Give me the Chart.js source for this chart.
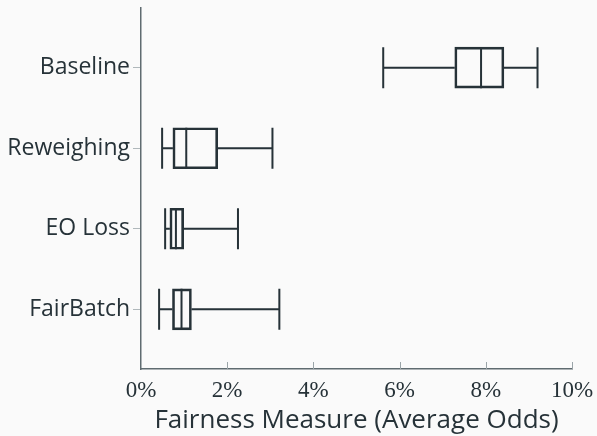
<!DOCTYPE html>
<html>
<head>
<meta charset="utf-8">
<script src="https://cdn.jsdelivr.net/npm/chart.js@4.4.1/dist/chart.umd.min.js"></script>
<style>
  html, body { margin: 0; padding: 0; background: #fafafa; }
  canvas { display: block; }
</style>
</head>
<body>
<canvas id="chart" width="597" height="436"></canvas>
<script>
// data van de boxplots (in procent)
const categories = ["Baseline", "Reweighing", "EO Loss", "FairBatch"];
const whiskerLow = [5.62, 0.49, 0.56, 0.42];
const q1 = [7.28, 0.74, 0.67, 0.73];
const median = [7.89, 1.05, 0.81, 0.94];
const q3 = [8.42, 1.78, 0.99, 1.17];
const whiskerHigh = [9.20, 3.05, 2.25, 3.21];
const xTicks = [0, 2, 4, 6, 8, 10];

const lineColour = "#263238";
const textColour = "#263238";
const boxHeight = 41;

// snorharen, mediaan en de naar binnen gerichte x-ticks
const boxPlugin = {
    id: "boxExtras",
    beforeDraw(chart) {
        const ctx = chart.ctx;
        ctx.save();
        ctx.fillStyle = "#fafafa";
        ctx.fillRect(0, 0, chart.width, chart.height);
        ctx.restore();
    },
    afterDatasetsDraw(chart) {
        const ctx = chart.ctx;
        const x = chart.scales.x;
        const y = chart.scales.y;
        const half = boxHeight / 2;
        ctx.save();
        ctx.strokeStyle = lineColour;
        ctx.lineWidth = 2;
        for (let i = 0; i < categories.length; i++) {
            const cy = y.getPixelForValue(i);
            const lo = x.getPixelForValue(whiskerLow[i]);
            const a = x.getPixelForValue(q1[i]);
            const b = x.getPixelForValue(q3[i]);
            const hi = x.getPixelForValue(whiskerHigh[i]);
            const m = x.getPixelForValue(median[i]);
            ctx.beginPath();
            ctx.moveTo(lo, cy); ctx.lineTo(a, cy);
            ctx.moveTo(b, cy); ctx.lineTo(hi, cy);
            ctx.moveTo(lo, cy - half); ctx.lineTo(lo, cy + half);
            ctx.moveTo(hi, cy - half); ctx.lineTo(hi, cy + half);
            ctx.moveTo(m, cy - half); ctx.lineTo(m, cy + half);
            ctx.stroke();
        }
        ctx.strokeStyle = "#9aa4a8";
        ctx.lineWidth = 1;
        const bottom = chart.chartArea.bottom;
        xTicks.slice(1).forEach(v => {
            const px = Math.round(x.getPixelForValue(v)) + 0.5;
            ctx.beginPath();
            ctx.moveTo(px, bottom);
            ctx.lineTo(px, bottom - 7);
            ctx.stroke();
        });
        ctx.restore();
    }
};

new Chart(document.getElementById("chart"), {
    type: "bar",
    data: {
        datasets: [{
            data: categories.map((c, i) => ({ x: [q1[i], q3[i]], y: i })),
            backgroundColor: "rgba(0,0,0,0)",
            borderColor: lineColour,
            borderWidth: 2,
            borderSkipped: false,
            barThickness: boxHeight
        }]
    },
    options: {
        indexAxis: "y",
        responsive: false,
        animation: false,
        layout: { padding: { top: 8, right: 25 } },
        plugins: { legend: { display: false }, tooltip: { enabled: false } },
        scales: {
            x: {
                type: "linear",
                min: 0,
                max: 10,
                afterBuildTicks: s => { s.ticks = xTicks.map(v => ({ value: v })); },
                afterFit: s => { s.height = 67; s.paddingLeft = 0; s.paddingRight = 0; },
                grid: { display: false, drawTicks: false },
                border: { display: true, color: "#5f6b70", width: 1.5 },
                ticks: {
                    padding: 8,
                    color: textColour,
                    font: { family: "Liberation Serif", size: 23 },
                    callback: v => v + "%"
                },
                title: {
                    display: true,
                    text: "Fairness Measure (Average Odds)",
                    color: textColour,
                    font: { family: "Open Sans", size: 26 },
                    padding: { top: -4, bottom: 0 }
                }
            },
            y: {
                type: "linear",
                reverse: true,
                offset: false,
                min: -0.74,
                max: 3.74,
                afterBuildTicks: s => { s.ticks = categories.map((c, i) => ({ value: i })); },
                afterFit: s => { s.width = 141; s.paddingTop = 0; s.paddingBottom = 0; },
                grid: { offset: false, drawOnChartArea: false, drawTicks: true, tickLength: 8, color: "#b0b8bb" },
                border: { display: true, color: "#5f6b70", width: 1.5 },
                ticks: {
                    padding: 3,
                    color: textColour,
                    font: { family: "Open Sans", size: 23 },
                    callback: v => categories[v]
                }
            }
        }
    },
    plugins: [boxPlugin]
});
</script>
</body>
</html>
